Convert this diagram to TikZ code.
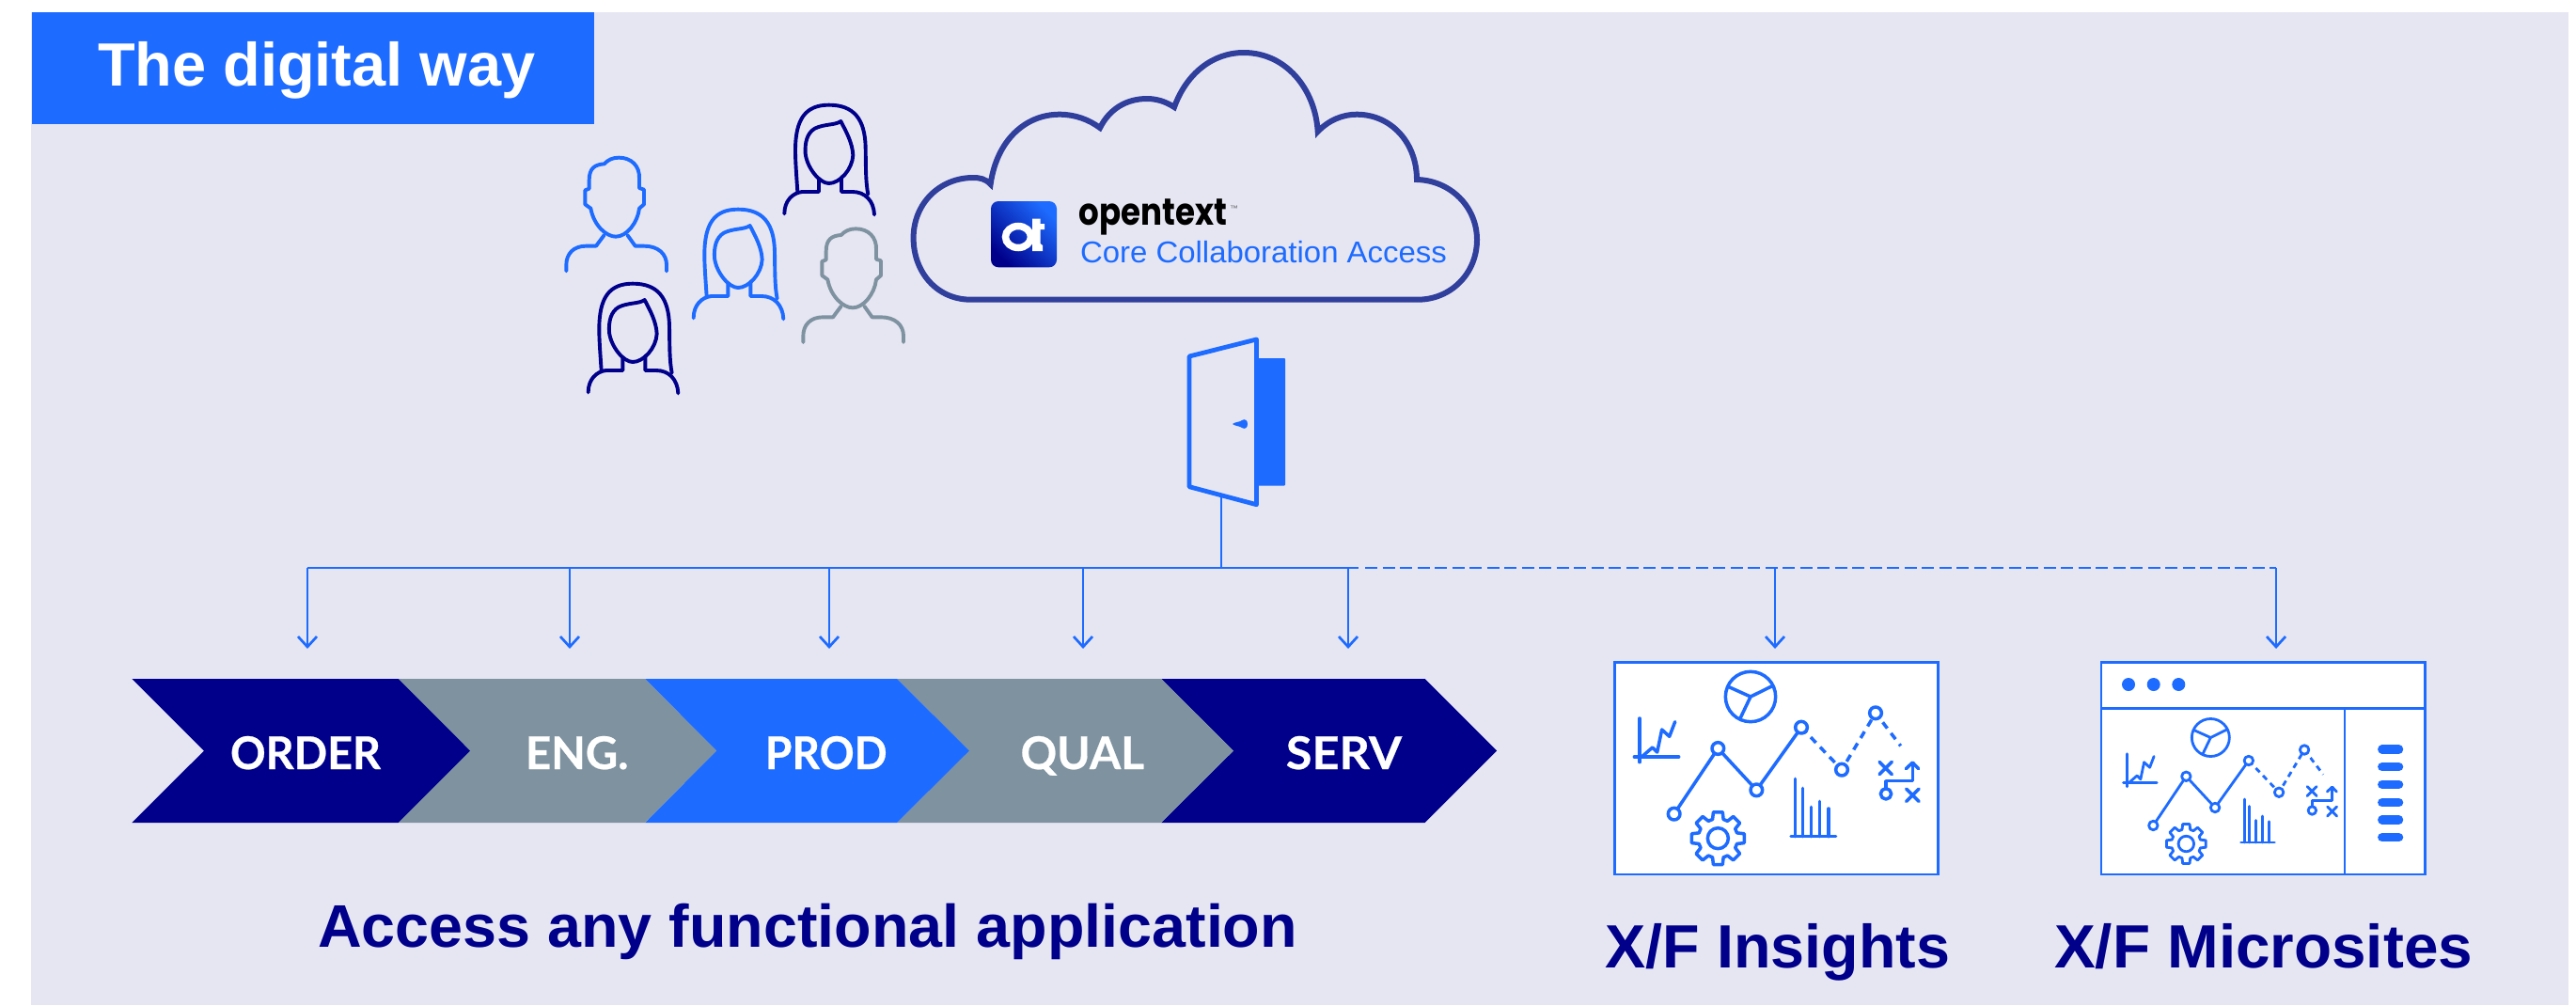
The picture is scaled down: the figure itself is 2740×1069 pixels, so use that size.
\documentclass[tikz,border=0pt]{standalone}
\usepackage{graphicx}
\usepackage{fontspec}
\setmainfont{Liberation Sans}
\newfontfamily\lato[BoldFeatures={FakeBold=0.5}]{Lato}
\newfontfamily\popp{Poppins}
\usetikzlibrary{arrows.meta}
\definecolor{otblue}{HTML}{1D6BFF}
\definecolor{otnavy}{HTML}{00008B}
\definecolor{otgrey}{HTML}{7F92A0}
\definecolor{otbg}{HTML}{E6E6F3}
\definecolor{otcloud}{HTML}{303F9C}
\newcommand{\fitw}[2]{\resizebox{#1pt}{\height}{#2}}
\newcommand{\fsz}[1]{\fontsize{#1}{#1}\selectfont}
\tikzset{
  lab/.style={anchor=base west,inner sep=0pt,outer sep=0pt},
  chevlab/.style={lab,text=white},
  headlab/.style={lab,text=otnavy},
  conn/.style={draw=otblue,line width=2.7pt},
  connarrow/.style={conn,-{Straight Barb[length=11pt,width=20pt]}},
  connbranch/.style={conn,dash pattern=on 13pt off 5.5pt},
  person/.style={line width=3.9pt,line cap=round,line join=round,fill=none},
  panel/.style={draw=otblue,line width=2.7pt,fill=white},
  chev/.style={draw=none}
}
\newcommand{\womanicon}[3]{%
\begin{scope}[shift={(#1,#2)},scale=.33333,person,draw=#3]
\draw (823,442) .. controls (823,400) and (850,375) .. (880,372) -- (933,372) -- (933,330);
\draw (1005,325) -- (1005,372) -- (1040,372) .. controls (1080,372) and (1108,400) .. (1110,445);
\draw (865,372) .. controls (860,300) and (858,270) .. (858,240) .. controls (858,140) and (890,95) .. (965,95) .. controls (1045,95) and (1080,140) .. (1082,230) .. controls (1083,290) and (1082,340) .. (1090,380);
\draw (1003,147) .. controls (985,160) and (950,155) .. (920,170) .. controls (895,185) and (888,215) .. (890,250) .. controls (895,295) and (935,345) .. (965,345) .. controls (1000,345) and (1040,300) .. (1042,255) .. controls (1040,215) and (1020,180) .. (1003,147) -- cycle;
\end{scope}}
\newcommand{\manicon}[3]{%
\begin{scope}[shift={(#1,#2)},scale=.33333,person,draw=#3]
\draw (127,625) -- (127,605) .. controls (127,570) and (150,545) .. (190,545) -- (222,545) -- (248,510);
\draw (322,510) -- (347,545) -- (375,545) .. controls (420,545) and (447,570) .. (447,605) -- (447,625);
\draw (205,425) .. controls (215,480) and (255,515) .. (285,515) .. controls (320,515) and (355,470) .. (360,425) -- (375,412) -- (375,365) -- (360,360) -- (360,330) .. controls (362,290) and (335,263) .. (295,263) .. controls (275,263) and (260,270) .. (248,283) .. controls (220,285) and (200,295) .. (200,335) -- (200,362) -- (187,367) -- (187,412) -- cycle;
\end{scope}}
% #1,#2 shift, #3 scale, #4 stroke, #5 dash on, #6 dash off
\newcommand{\insighticon}[6]{%
\begin{scope}[shift={(#1,#2)},scale=#3,draw=otblue,line width=#4pt,line cap=round,line join=round]
\draw (516,153) circle[radius=80];
\draw (447,122) -- (516,153) -- (583,120) (516,153) -- (483,222);
\draw (162,222) -- (162,362) (145,345) -- (287,345);
\draw (172,342) -- (203,315) -- (218,330) -- (233,258) -- (257,280) -- (275,233);
\draw (272,527) -- (412,318) -- (535,451) -- (678,251);
\draw[line cap=butt,dash pattern=on #5pt off #6pt] (678,251) -- (807,386) -- (915,205) -- (995,310);
\foreach \p in {(272,527),(412,318),(535,451),(678,251),(807,386),(915,205)}
  \draw[fill=white] \p circle[radius=19];
\draw (645,599) -- (788,599);
\draw (659,415) -- (659,599) (682,445) -- (682,599) (710,505) -- (710,599) (737,487) -- (737,599) (765,510) -- (765,599);
\begin{scope}[shift={(412,605)}]
\draw (0,0) circle[radius=33];
\draw (-16:63) foreach \a in {0,45,...,315} { -- (\a-16:63) -- (\a-10:85) -- (\a+10:85) -- (\a+16:63)} -- cycle;
\end{scope}
\draw (927,361) -- (967,401) (967,361) -- (927,401);
\draw (1013,447) -- (1053,487) (1053,447) -- (1013,487);
\draw (948,463) circle[radius=17];
\draw (948,446) -- (948,422) -- (1033,422) -- (1033,365);
\draw (1012,383) -- (1033,363) -- (1052,383);
\end{scope}}
\begin{document}
\begin{tikzpicture}[x=1pt,y=-1pt]
\useasboundingbox (0,0) rectangle (2740,1069);
\fill[white] (0,0) rectangle (2740,1069);
\fill[otbg] (33,13) rectangle (2732,1069);
% header
\fill[otblue] (33.7,13) rectangle (632,132);
\node[lab,text=white] (title) at (104,91.7) {\fitw{465.5}{\fsz{65}\bfseries The digital way}};
% people
\manicon{560}{80}{otblue}
\manicon{812}{155.67}{otgrey}
\womanicon{560}{80}{otnavy}
\womanicon{463.33}{191}{otblue}
\womanicon{351.33}{270}{otnavy}
% cloud
\draw[otcloud,line width=6pt,line join=miter] (1032.6,318.7) .. controls (997,318.7) and (971.6,290) .. (971.6,253) .. controls (971.6,216) and (1000,189) .. (1035,189) .. controls (1042,189) and (1048,190) .. (1053.6,196)
 .. controls (1060,150) and (1090,121.7) .. (1127,121.7) .. controls (1143,121.7) and (1158,127) .. (1170,136)
 .. controls (1180,116) and (1198,105) .. (1220,105) .. controls (1230,105) and (1240,108) .. (1249,114)
 .. controls (1262,78) and (1290,56) .. (1323,56) .. controls (1368,56) and (1399,95) .. (1401.7,140)
 .. controls (1413,128) and (1428,121.7) .. (1443,121.7) .. controls (1480,121.7) and (1507,152) .. (1507,191)
 .. controls (1543,192) and (1571,220) .. (1571,255) .. controls (1571,291) and (1543,318.7) .. (1508,318.7) -- cycle;
% logo
\shade[rounded corners=8pt,left color=otblue,right color=otnavy,shading angle=-45] (1054,214) rectangle (1124,284.3);
\draw[white,line width=7.5pt] (1083,252) ellipse[x radius=13.5,y radius=11.5];
\fill[white] (1098,232.5) -- (1106.5,232.5) -- (1106.5,238) -- (1111,238) -- (1111,244) -- (1106.5,244) -- (1106.5,259) -- (1109,261) -- (1109,267) -- (1098,267) -- cycle;
\node[lab,text=black] (brand) at (1147.5,239) {\fitw{157.5}{\fsz{40}\popp\bfseries opentext}};
\node[lab,text=black!60] (tm) at (1308,224) {\fitw{9}{\fsz{8}™}};
\node[lab,text=otblue] (product) at (1149,279) {\fitw{390}{\fsz{32}Core Collaboration Access}};
% door
\fill[otblue,rounded corners=1pt] (1336,381) rectangle (1367,516.7);
\draw[otblue,line width=4.8pt,line join=round,fill=otbg] (1265,379) -- (1336.5,361) -- (1336.5,536.7) -- (1265,517.7) -- cycle;
\fill[otblue] (1311,451) .. controls (1314,448.5) and (1319,449) .. (1321,447) .. controls (1324,445) and (1327,447) .. (1327,451) .. controls (1327,455) and (1324,457) .. (1321,455) .. controls (1319,453) and (1314,453.5) .. (1311,451) -- cycle;
% connectors
\coordinate (doorfoot) at (1299,527);
\coordinate (hub) at (1299,604);
\coordinate (busL) at (327,604);
\coordinate (b2) at (606,604);
\coordinate (b3) at (882,604);
\coordinate (b4) at (1152,604);
\coordinate (b5) at (1434,604);
\coordinate (b6) at (1888,604);
\coordinate (b7) at (2421,604);
\coordinate (t1) at (327,690);
\coordinate (t2) at (606,690);
\coordinate (t3) at (882,690);
\coordinate (t4) at (1152,690);
\coordinate (t5) at (1434,690);
\coordinate (t6) at (1888,690);
\coordinate (t7) at (2421,690);
\draw[conn] (doorfoot) -- (hub);
\draw[conn] (busL) -- (b5) -- ++(11,0);
\draw[connbranch] (1452,604) -- (b7);
\draw[connarrow] (busL) -- (t1);
\draw[connarrow] (b2) -- (t2);
\draw[connarrow] (b3) -- (t3);
\draw[connarrow] (b4) -- (t4);
\draw[connarrow] (b5) -- (t5);
\draw[connarrow] (b6) -- (t6);
\draw[connarrow] (b7) -- (t7);
% chevrons
\fill[otnavy] (1235,722) -- (1515.6,722) -- (1592,798.5) -- (1515.6,875) -- (1235,875) -- (1312,798.5) -- cycle;
\fill[otgrey] (954,722) -- (1235,722) -- (1312,798.5) -- (1235,875) -- (954,875) -- (1031,798.5) -- cycle;
\fill[otblue] (686,722) -- (954,722) -- (1031,798.5) -- (954,875) -- (686,875) -- (762,798.5) -- cycle;
\fill[otgrey] (423.6,722) -- (686,722) -- (762,798.5) -- (686,875) -- (423.6,875) -- (500,798.5) -- cycle;
\fill[otnavy] (140.4,722) -- (423.6,722) -- (500,798.5) -- (423.6,875) -- (140.4,875) -- (217,798.5) -- cycle;
\node[chevlab] (order) at (245,818) {\fitw{160}{\fsz{48}\lato\bfseries ORDER}};
\node[chevlab] (eng) at (559,818) {\fitw{109.5}{\fsz{48}\lato\bfseries ENG.}};
\node[chevlab] (prod) at (814,818) {\fitw{129.6}{\fsz{48}\lato\bfseries PROD}};
\node[chevlab] (qual) at (1085.6,818) {\fitw{131.4}{\fsz{48}\lato\bfseries QUAL}};
\node[chevlab] (serv) at (1367.8,818) {\fitw{123.2}{\fsz{48}\lato\bfseries SERV}};
\node[headlab] (access) at (338,1007.7) {\fitw{1042}{\fsz{64}\bfseries Access any functional application}};
% insights panel
\draw[panel] (1717.3,704.3) rectangle (2061.7,930);
\insighticon{1690}{690}{.33333}{3.5}{8}{6.5}
% microsites panel
\draw[panel] (2235,704.3) rectangle (2579.3,930);
\draw[conn] (2235,753.3) -- (2579.3,753.3);
\draw[conn] (2494,753.3) -- (2494,930);
\fill[otblue] (2264,728) circle[radius=7] (2290.7,728) circle[radius=7] (2317.3,728) circle[radius=7];
\foreach \py in {797,815.7,834.3,853.7,872,890.7}
  \draw[otblue,line width=9.3pt,line cap=round] (2533.7,\py) -- (2551.6,\py);
\insighticon{2222.33}{746.25}{.25}{2.8}{6}{5}
\node[headlab] (insights) at (1707.7,1029) {\fitw{366.3}{\fsz{65}\bfseries X/F Insights}};
\node[headlab] (micro) at (2185,1029) {\fitw{445}{\fsz{65}\bfseries X/F Microsites}};
\end{tikzpicture}
\end{document}
